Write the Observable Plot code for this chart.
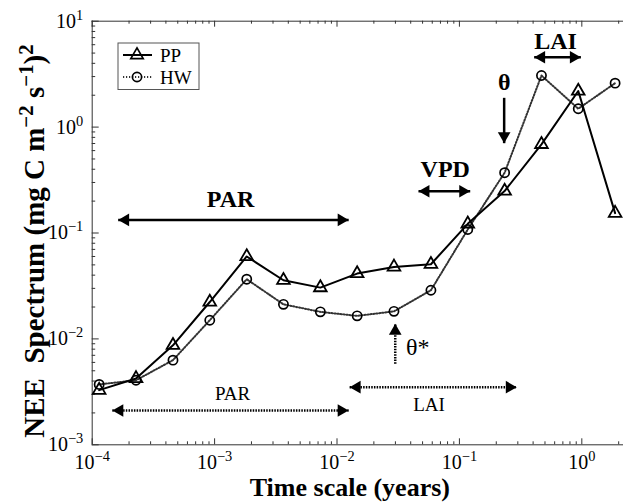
<!DOCTYPE html>
<html><head><meta charset="utf-8">
<script src="https://cdn.jsdelivr.net/npm/d3@7"></script>
<script src="https://cdn.jsdelivr.net/npm/@observablehq/plot@0.6"></script>
<style>body{margin:0;background:#fff}</style>
</head><body><div id="chart"></div>
<script>
// ---- data (time scale in years, NEE spectrum) ----
const timeScale = [1.14e-4, 2.28e-4, 4.57e-4, 9.13e-4, 1.83e-3, 3.65e-3, 7.31e-3, 0.0146, 0.0292, 0.0585, 0.117, 0.234, 0.468, 0.935, 1.87];
const ppValues  = [3.28e-3, 4.23e-3, 8.7e-3, 0.0223, 0.060, 0.0358, 0.0305, 0.0414, 0.0478, 0.0507, 0.122, 0.249, 0.687, 2.19, 0.154];
const hwValues  = [3.72e-3, 4.07e-3, 6.3e-3, 0.0150, 0.0366, 0.0212, 0.0180, 0.0165, 0.0182, 0.0288, 0.108, 0.371, 3.07, 1.49, 2.60];
const seriesNames = ["PP", "HW"];

const xMajorTicks = [1e-4, 1e-3, 1e-2, 1e-1, 1];
const yMajorTicks = [1e-3, 1e-2, 1e-1, 1, 10];
const xTitle = "Time scale (years)";
const yTitle = "NEE  Spectrum (mg C m⁻² s⁻¹)²";

// annotation arrows (data coordinates) and labels
const arrowShafts = [
  {x1: 1.63e-4, x2: 0.01245, y1: 0.133, y2: 0.133, dotted: false, both: true},
  {x1: 0.0463, x2: 0.1225, y1: 0.248, y2: 0.248, dotted: false, both: true},
  {x1: 0.408, x2: 0.982, y1: 4.57, y2: 4.57, dotted: false, both: true},
  {x1: 0.232, x2: 0.232, y1: 1.89, y2: 0.705, dotted: false, both: false},
  {x1: 0.0299, x2: 0.0299, y1: 5.82e-3, y2: 0.0139, dotted: true, both: false},
  {x1: 1.46e-4, x2: 0.01245, y1: 2.11e-3, y2: 2.11e-3, dotted: true, both: true},
  {x1: 0.01268, x2: 0.294, y1: 3.5e-3, y2: 3.5e-3, dotted: true, both: true}
];
const boldLabels = [
  {text: "PAR", x: 1.35e-3, y: 0.2085},
  {text: "VPD", x: 0.0766, y: 0.398},
  {text: "LAI", x: 0.61, y: 6.40},
  {text: "θ", x: 0.232, y: 2.65}
];
const plainLabels = [
  {text: "PAR", x: 1.40e-3, y: 3.0e-3, size: 19},
  {text: "LAI", x: 0.0564, y: 2.37e-3, size: 19},
  {text: "θ*", x: 0.0457, y: 8.35e-3, size: 24}
];

// ---- build ----
const data = timeScale.map((t, i) => ({t, pp: ppValues[i], hw: hwValues[i]}));
const xMinorTicks = [], yMinorTicks = [];
for (let e = -4; e <= 0; e++) for (let m = 2; m <= 9; m++) { const v = m * 10 ** e; if (v <= 2.19) xMinorTicks.push(v); }
for (let e = -3; e <= 0; e++) for (let m = 2; m <= 9; m++) yMinorTicks.push(m * 10 ** e);

const sup = {"-": "⁻", "0": "⁰", "1": "¹", "2": "²", "3": "³", "4": "⁴"};
const fmt = d => "10" + String(Math.round(Math.log10(d))).split("").map(c => sup[c]).join("");

const W = 623, H = 502, mL = 91.7, mT = 20.7, mB = 57.7;
const frameW = W - mL, frameH = H - mT - mB;

// arrow heads
const heads = {right: [], left: [], up: [], down: []};
for (const a of arrowShafts) {
  if (a.y1 === a.y2) {
    heads[a.x2 > a.x1 ? "right" : "left"].push({x: a.x2, y: a.y2});
    if (a.both) heads[a.x2 > a.x1 ? "left" : "right"].push({x: a.x1, y: a.y1});
  } else {
    heads[a.y2 > a.y1 ? "up" : "down"].push({x: a.x2, y: a.y2});
    if (a.both) heads[a.y2 > a.y1 ? "down" : "up"].push({x: a.x1, y: a.y1});
  }
}
const hr = 4.7;
const tip = 2 * Math.sqrt(Math.PI * hr * hr / (3 * Math.sqrt(3)));
const headMark = (arr, rotate, dx, dy) => Plot.dot(arr, {x: "x", y: "y", symbol: "triangle", r: hr, fill: "black", stroke: "none", rotate, dx, dy});

const axisColor = "#333";
const serif = "'Liberation Serif', 'Times New Roman', serif";
const chart = Plot.plot({
  width: W, height: H,
  marginLeft: mL, marginTop: mT, marginBottom: mB, marginRight: 0,
  style: {fontFamily: serif, background: "white", color: "black"},
  x: {type: "log", domain: [1e-4, 2.19]},
  y: {type: "log", domain: [1e-3, 10]},
  marks: [
    Plot.ruleX([1e-4], {stroke: axisColor}),
    Plot.ruleY([1e-3, 10], {stroke: axisColor}),
    Plot.tickX(xMajorTicks, {x: d => d, insetTop: frameH - 6, stroke: axisColor}),
    Plot.tickX(xMinorTicks, {x: d => d, insetTop: frameH - 3, stroke: axisColor}),
    Plot.tickX(xMajorTicks, {x: d => d, insetBottom: frameH - 6, stroke: axisColor}),
    Plot.tickX(xMinorTicks, {x: d => d, insetBottom: frameH - 3, stroke: axisColor}),
    Plot.tickY(yMajorTicks, {y: d => d, insetRight: frameW - 7, stroke: axisColor}),
    Plot.tickY(yMinorTicks, {y: d => d, insetRight: frameW - 3.5, stroke: axisColor}),
    Plot.axisX(xMajorTicks, {tickSize: 0, tickPadding: 10, tickFormat: fmt, fontSize: 20, label: null}),
    Plot.axisY(yMajorTicks, {tickSize: 0, tickPadding: 9, tickFormat: fmt, fontSize: 20, label: null}),
    Plot.text([xTitle], {frameAnchor: "bottom", textAnchor: "middle", lineAnchor: "middle", dx: -8, dy: 43, fontSize: 26, fontWeight: "bold"}),
    Plot.text([yTitle], {frameAnchor: "left", textAnchor: "middle", lineAnchor: "middle", dx: -57, dy: 8, rotate: -90, fontSize: 29, fontWeight: "bold"}),
    // series
    Plot.line(data, {x: "t", y: "hw", stroke: "#333", strokeWidth: 2, strokeDasharray: "1.2,1.8"}),
    Plot.line(data, {x: "t", y: "pp", stroke: "black", strokeWidth: 2}),
    Plot.dot(data, {x: "t", y: "hw", symbol: "circle", r: 4.6, stroke: "black", strokeWidth: 1.7, fill: "none"}),
    Plot.dot(data, {x: "t", y: "pp", symbol: "triangle", r: 4.7, stroke: "black", strokeWidth: 1.8, fill: "none"}),
    // annotations
    Plot.link(arrowShafts.filter(a => !a.dotted), {x1: "x1", x2: "x2", y1: "y1", y2: "y2", stroke: "black", strokeWidth: 2.5}),
    Plot.link(arrowShafts.filter(a => a.dotted), {x1: "x1", x2: "x2", y1: "y1", y2: "y2", stroke: "black", strokeWidth: 2.5, strokeDasharray: "1.5,1.2"}),
    headMark(heads.right, 90, -tip, 0),
    headMark(heads.left, -90, tip, 0),
    headMark(heads.up, 0, 0, tip),
    headMark(heads.down, 180, 0, -tip),
    Plot.text(boldLabels, {x: "x", y: "y", text: "text", fontSize: 24, fontWeight: "bold"}),
    Plot.text(plainLabels, {x: "x", y: "y", text: "text", fontSize: d => d.size})
  ]
});
document.getElementById("chart").appendChild(chart);

// turn unicode superscripts into raised tspans (real text kept)
const supMap = {"⁻": "−", "⁰": "0", "¹": "1", "²": "2", "³": "3", "⁴": "4"};
function supify(el, raise) {
  const s = el.textContent;
  const runs = [];
  for (const ch of s) {
    const isSup = ch in supMap;
    const c = isSup ? supMap[ch] : ch;
    if (runs.length && runs[runs.length - 1].sup === isSup) runs[runs.length - 1].text += c;
    else runs.push({sup: isSup, text: c});
  }
  el.textContent = "";
  for (const r of runs) {
    const t = d3.select(el).append("tspan").text(r.text);
    if (r.sup) t.attr("dy", -raise).attr("font-size", "72%");
    else if (el.childNodes.length > 1) t.attr("dy", raise);
  }
}
const svg = d3.select(chart);
svg.selectAll("text").each(function() {
  const s = this.textContent;
  if (s === yTitle) supify(this, 11);
  else if (/^10[⁻⁰¹²³⁴]+$/.test(s)) supify(this, 8);
});

// legend
const lg = svg.append("g").attr("font-family", serif).attr("text-anchor", "start");
lg.append("rect").attr("x", 118).attr("y", 43).attr("width", 81).attr("height", 46.5)
  .attr("fill", "white").attr("stroke", "#555").attr("stroke-width", 1);
const rows = [{name: seriesNames[0], y: 55, dotted: false, sym: d3.symbolTriangle},
              {name: seriesNames[1], y: 77, dotted: true, sym: d3.symbolCircle}];
for (const r of rows) {
  lg.append("line").attr("x1", 123).attr("x2", 152).attr("y1", r.y).attr("y2", r.y)
    .attr("stroke", r.dotted ? "#333" : "black").attr("stroke-width", 2)
    .attr("stroke-dasharray", r.dotted ? "1.2,1.8" : null);
  lg.append("path").attr("d", d3.symbol(r.sym, Math.PI * 4.6 * 4.6)())
    .attr("transform", `translate(137,${r.y})`).attr("fill", "none").attr("stroke", "black").attr("stroke-width", 1.7);
  lg.append("text").attr("x", 160).attr("y", r.y).attr("dy", "0.35em").attr("font-size", 19).text(r.name);
}
</script>
</body></html>
